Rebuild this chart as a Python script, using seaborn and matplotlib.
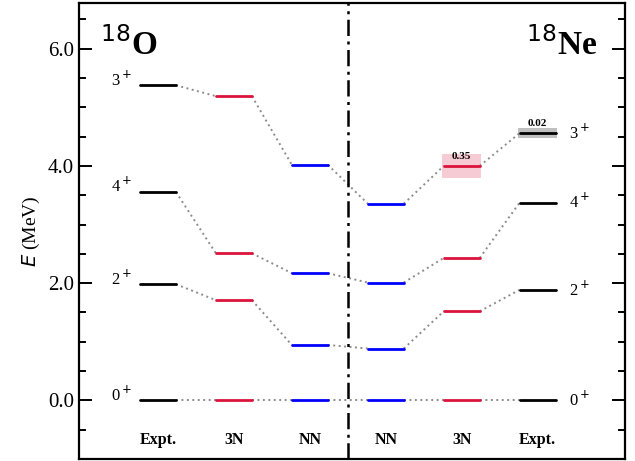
import matplotlib
matplotlib.use("Agg")
import matplotlib.pyplot as plt
from matplotlib.ticker import MultipleLocator, FormatStrFormatter
import numpy as np
import pandas as pd
import seaborn as sns

# Level scheme of the mirror pair 18O / 18Ne
columns = ["Expt.", "3N", "NN", "NN", "3N", "Expt."]
spins = ["0$^+$", "2$^+$", "4$^+$", "3$^+$"]
o18_expt = [0.0, 1.982, 3.555, 5.377]
o18_3n = [0.0, 1.71, 2.51, 5.19]
o18_nn = [0.0, 0.945, 2.17, 4.02]
ne18_nn = [0.0, 0.885, 2.01, 3.355]
ne18_3n = [0.0, 1.52, 2.43, 4.00]
ne18_expt = [0.0, 1.887, 3.376, 4.561]
column_colors = ["black", "#DC143C", "#0000FF", "#0000FF", "#DC143C", "black"]

# widths (MeV) quoted for the 3+ states in 18Ne
width_column = [4, 5]
width_values = [0.35, 0.02]
width_colors = ["#DC143C", "#808080"]

energies = [o18_expt, o18_3n, o18_nn, ne18_nn, ne18_3n, ne18_expt]

sns.set_theme(style="ticks")
plt.rcParams["font.family"] = ["Liberation Serif", "DejaVu Serif"]
plt.rcParams["mathtext.fontset"] = "dejavusans"
for key in ["text.color", "axes.labelcolor", "xtick.color", "ytick.color",
            "axes.edgecolor"]:
    plt.rcParams[key] = "black"

fig = plt.figure(figsize=(6.35, 4.61), dpi=100)
ax = fig.add_axes([79 / 635, 2 / 461, 546 / 635, 456 / 461])

hw = 0.237  # half length of a level bar

# level bars
rows = []
for j, col in enumerate(energies):
    for i, e in enumerate(col):
        seg = f"{j}-{i}"
        rows.append(dict(x=j - hw, E=e, seg=seg, col=str(j)))
        rows.append(dict(x=j + hw, E=e, seg=seg, col=str(j)))
levels = pd.DataFrame(rows)

# dotted connectors between neighbouring columns
crow = []
for i in range(len(spins)):
    for j in range(len(energies) - 1):
        seg = f"{i}-{j}"
        crow.append(dict(x=j + hw, E=energies[j][i], seg=seg))
        crow.append(dict(x=j + 1 - hw, E=energies[j + 1][i], seg=seg))
links = pd.DataFrame(crow)

sns.lineplot(data=links, x="x", y="E", units="seg", estimator=None,
             color="#8c8c8c", lw=1.4, linestyle=(0, (1, 1.8)), ax=ax,
             legend=False, zorder=1)

# uncertainty bands behind the bars
for j, w, c in zip(width_column, width_values, width_colors):
    e = energies[j][3]
    half = max(w / 2 + 0.03, 0.09)
    ax.fill_between([j - hw - 0.02, j + hw + 0.02], e - half, e + half,
                    color=c, alpha=0.22 if c != "#808080" else 0.5,
                    lw=0, zorder=2)
    ax.text(j, e + 0.08, f"{w:.2f}", ha="center", va="bottom",
            fontsize=8, fontweight="bold", zorder=4)

sns.lineplot(data=levels, x="x", y="E", units="seg", estimator=None,
             hue="col", palette={str(j): c for j, c in enumerate(column_colors)},
             lw=2.0, ax=ax, legend=False, zorder=3)

# spin-parity labels
for i, s in enumerate(spins):
    ax.annotate(s, (-hw - 0.1, energies[0][i]), ha="right", va="baseline",
                fontsize=12, xytext=(0, 0), textcoords="offset points")
    ax.annotate(s, (5 + hw + 0.17, energies[5][i]), ha="left", va="baseline",
                fontsize=12, xytext=(0, -4), textcoords="offset points")

# nucleus labels
ax.text(-0.77, 5.9, r"$^{18}$O", fontsize=24, fontweight="bold",
        ha="left", va="baseline")
ax.text(5.78, 5.9, r"$^{18}$Ne", fontsize=24, fontweight="bold",
        ha="right", va="baseline")

# column labels
for j, name in enumerate(columns):
    ax.text(j, -0.67, name, ha="center", va="center", fontsize=11.5,
            fontweight="bold")

# separator between the two nuclei
ax.axvline(2.5, color="black", lw=1.8, linestyle=(0, (6.5, 2.2, 1.2, 2.2)),
           zorder=2)

ax.set_xlim(-1.04, 6.15)
ax.set_ylim(-1.0, 6.78)
ax.set_xticks([])
ax.set_xlabel("")
ax.yaxis.set_major_locator(MultipleLocator(2.0))
ax.yaxis.set_minor_locator(MultipleLocator(0.5))
ax.yaxis.set_major_formatter(FormatStrFormatter("%.1f"))
ax.tick_params(axis="y", which="both", direction="in", right=True,
               labelsize=15, width=1.4, color="black", labelcolor="black")
ax.tick_params(axis="y", which="major", length=9.5)
ax.tick_params(axis="y", which="minor", length=5)
ax.set_ylabel("$E$ (MeV)", fontsize=14, labelpad=4, color="black")
for sp in ax.spines.values():
    sp.set_visible(True)
    sp.set_linewidth(1.6)
    sp.set_color("black")

fig.savefig("out.png", dpi=100)
